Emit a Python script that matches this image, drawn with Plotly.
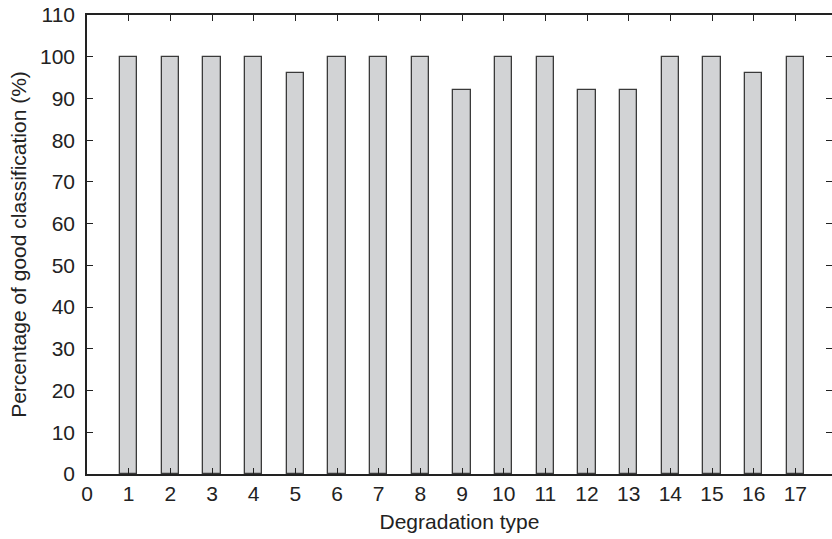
import plotly.graph_objects as go

categories = list(range(1, 18))
values = [100, 100, 100, 100, 96, 100, 100, 100, 92, 100, 100, 92, 92, 100, 100, 96, 100]
x_ticks = list(range(0, 18))
y_ticks = list(range(0, 111, 10))

FONT = "Liberation Sans, Arial, sans-serif"
INK = "#222222"

fig = go.Figure()
fig.add_trace(go.Bar(
    x=categories, y=values, width=0.41,
    marker=dict(color="#d2d3d5", line=dict(color="#3a3a3a", width=1.3)),
    showlegend=False, hoverinfo="x+y",
))
# invisible trace for the right-hand tick axis
fig.add_trace(go.Scatter(x=[None], y=[None], yaxis="y2", showlegend=False))

fig.update_layout(
    width=832, height=539,
    margin=dict(l=87, r=0, t=15, b=65, autoexpand=False),
    paper_bgcolor="white", plot_bgcolor="white",
    font=dict(family=FONT, color=INK, size=21),
    bargap=0,
    xaxis=dict(
        range=[0, 17.88], tickvals=x_ticks, ticktext=[str(v) for v in x_ticks],
        showgrid=False, zeroline=False, automargin=False,
        showline=True, linecolor=INK, linewidth=1.5, mirror="ticks",
        ticks="inside", ticklen=6, tickwidth=1.2, tickcolor=INK,
        tickfont=dict(size=21, family=FONT, color=INK),
        title=dict(text="Degradation type", font=dict(size=21, family=FONT, color=INK), standoff=10),
    ),
    yaxis=dict(
        range=[0, 110], tickvals=y_ticks, ticktext=[str(v) for v in y_ticks],
        showgrid=False, zeroline=False, automargin=False,
        showline=True, linecolor=INK, linewidth=1.5, mirror=False,
        ticks="inside", ticklen=6, tickwidth=1.2, tickcolor=INK,
        tickfont=dict(size=21, family=FONT, color=INK),
        ticklabelstandoff=6,
        title=dict(text="Percentage of good classification (%)", font=dict(size=21, family=FONT, color=INK), standoff=8),
    ),
    yaxis2=dict(
        overlaying="y", side="right", range=[0, 110], tickvals=y_ticks,
        showticklabels=False, showgrid=False, zeroline=False, showline=False, automargin=False,
        ticks="inside", ticklen=6, tickwidth=1.2, tickcolor=INK,
    ),
)

fig.write_html("out.html", config={"displayModeBar": False},
               post_script="document.body.style.margin='0';")
